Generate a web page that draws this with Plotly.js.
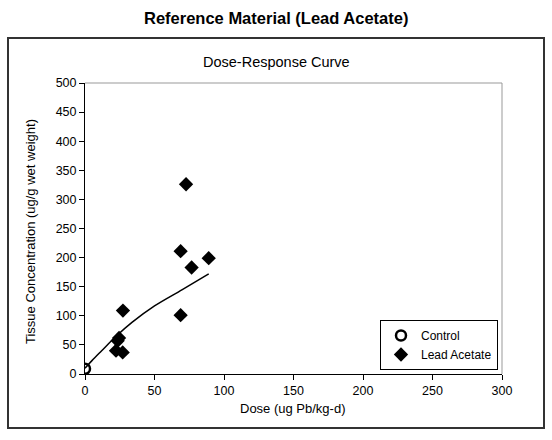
<!DOCTYPE html>
<html>
<head>
<meta charset="utf-8">
<script src="https://cdn.plot.ly/plotly-3.0.1.min.js"></script>
<style>html,body{margin:0;padding:0;background:#fff;}</style>
</head>
<body>
<div id="chart" style="width:552px;height:440px;"></div>
<script>
// Data
const controlDose = [0];
const controlConc = [9];
const leadDose = [72.7, 68.8, 76.7, 89, 68.8, 27.3, 24.5, 23.5, 22.3, 27.1];
const leadConc = [326, 211, 183, 199, 101, 109, 62, 57, 40, 37];
// Trendline
const trendDose = [0, 5, 12, 22, 34, 50, 70, 89];
const trendConc = [10, 23, 40, 64, 89, 117, 145, 172];

const font = {family: 'Liberation Sans, Arial, sans-serif', color: '#000'};
const f = (s) => Object.assign({size: s}, font);

const traces = [
  {x: trendDose, y: trendConc, mode: 'lines', line: {color: '#000', width: 1.5, shape: 'spline', smoothing: 1},
   showlegend: false, hoverinfo: 'skip'},
  {x: controlDose, y: controlConc, mode: 'markers', name: 'Control',
   marker: {symbol: 'circle-open', size: 10, color: '#000', line: {width: 2.5, color: '#000'}}},
  {x: leadDose, y: leadConc, mode: 'markers', name: 'Lead Acetate',
   marker: {symbol: 'diamond', size: 11, color: '#000'}}
];

const L = 85, T = 83, W = 417, H = 291;
const px = (x) => (x - L) / W;
const py = (y) => (T + H - y) / H;

const layout = {
  width: 552, height: 440,
  margin: {l: 85, r: 50, t: 83, b: 66},
  paper_bgcolor: '#fff', plot_bgcolor: '#fff',
  font: f(12),
  showlegend: true,
  legend: {x: px(498), y: py(320), xanchor: 'right', yanchor: 'top',
    bordercolor: '#000', borderwidth: 1, bgcolor: '#fff',
    font: f(12), tracegroupgap: 0, itemwidth: 30},
  xaxis: {range: [0, 300], dtick: 50, showgrid: false, zeroline: false,
    showline: true, linecolor: '#000', linewidth: 1,
    ticks: 'outside', ticklen: 5, tickcolor: '#000',
    tickfont: f(12.5)},
  yaxis: {range: [0, 500], dtick: 50, showgrid: false, zeroline: false,
    showline: true, linecolor: '#000', linewidth: 1,
    ticks: 'outside', ticklen: 5, tickcolor: '#000',
    tickfont: f(12.5)},
  shapes: [
    {type: 'line', xref: 'paper', yref: 'paper', x0: 0, x1: 1, y0: 1, y1: 1, line: {color: '#999', width: 1}},
    {type: 'line', xref: 'paper', yref: 'paper', x0: 1, x1: 1, y0: 0, y1: 1, line: {color: '#999', width: 1}},
    {type: 'rect', xref: 'paper', yref: 'paper', x0: px(8), x1: px(544), y0: py(428), y1: py(38),
     line: {color: '#333', width: 2}, fillcolor: 'rgba(0,0,0,0)'}
  ],
  annotations: [
    {text: '<b>Reference Material (Lead Acetate)</b>', xref: 'paper', yref: 'paper',
     x: px(276), y: py(18), xanchor: 'center', yanchor: 'middle', showarrow: false,
     font: f(16.5)},
    {text: 'Dose-Response Curve', xref: 'paper', yref: 'paper',
     x: px(276), y: py(62), xanchor: 'center', yanchor: 'middle', showarrow: false,
     font: f(14.5)},
    {text: 'Dose (ug Pb/kg-d)', xref: 'paper', yref: 'paper',
     x: px(293), y: py(408), xanchor: 'center', yanchor: 'middle', showarrow: false,
     font: f(13)},
    {text: 'Tissue Concentration (ug/g wet weight)', xref: 'paper', yref: 'paper',
     x: px(30), y: py(232), xanchor: 'center', yanchor: 'middle', showarrow: false,
     textangle: -90, font: f(13)}
  ]
};

Plotly.newPlot('chart', traces, layout, {displayModeBar: false, staticPlot: true});
</script>
</body>
</html>
